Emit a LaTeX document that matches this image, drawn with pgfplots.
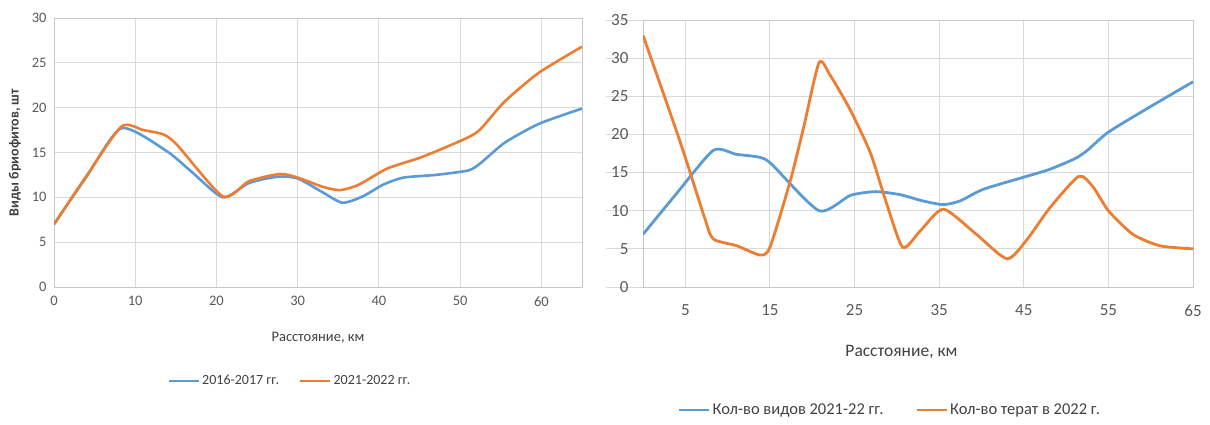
\documentclass[border=0pt]{standalone}
\usepackage{pgfplots}
\pgfplotsset{compat=1.18}
\usepackage{fontspec}
\setmainfont{Carlito}
\definecolor{cblue}{HTML}{5B9BD5}
\definecolor{corange}{HTML}{ED7D31}
\definecolor{cgrid}{HTML}{D9D9D9}
\definecolor{ctext}{HTML}{595959}
\definecolor{clab}{HTML}{404040}
\begin{document}
\begin{tikzpicture}
\useasboundingbox (0pt,0pt) rectangle (1210pt,425pt);
\pgfplotsset{
  every axis/.append style={
    scale only axis,
    axis line style={cgrid!80!gray},
    grid=major,
    major grid style={cgrid, line width=0.9pt},
    tick style={draw=none},
    /pgf/number format/assume math mode=true,
    tick label style={text=ctext},
    legend cell align=left,
    legend image code/.code={\draw[#1, line width=2.6pt] (0pt,0pt) -- (30pt,0pt);},
  }
}
% ---------------- left chart ----------------
\begin{axis}[
  at={(54pt,138pt)}, anchor=south west,
  width=528pt, height=269pt,
  xmin=0, xmax=65, ymin=0, ymax=30,
  xtick={0,10,...,60}, ytick={0,5,...,30},
  tick label style={font=\fontsize{14.5}{16}\selectfont},
  yticklabel style={xshift=-4pt},
  xticklabel style={yshift=-6pt},
  xlabel={Расстояние, км},
  xlabel style={at={(axis description cs:0.5,-0.19)}, anchor=center, font=\fontsize{14.5}{16}\selectfont, text=clab},
  ylabel={\bfseries Виды бриофитов, шт},
  ylabel style={at={(axis description cs:-0.074,0.5)}, anchor=center, font=\fontsize{14}{16}\selectfont, text=clab},
  legend style={at={(0.447,-0.349)}, anchor=center, draw=none, fill=none,
    legend columns=2, font=\fontsize{14}{16}\selectfont, text=clab,
    /tikz/every even column/.append style={column sep=18pt}},
]
\addplot[cblue, line width=2.6pt, smooth, tension=0.4] coordinates {
 (0,7) (4,12.3) (8.3,17.7) (13.8,15.2) (17,12.8) (20.8,10.0)
 (24,11.6) (27.5,12.3) (30,12.1) (33,10.6) (35.5,9.4) (38,10.1) (40.5,11.4)
 (43,12.2) (47,12.5) (51,13.0) (52.5,13.8) (55.5,16.1) (59.7,18.2) (65,19.9)};
\addlegendentry{2016-2017 гг.}
\addplot[corange, line width=2.6pt, smooth, tension=0.4] coordinates {
 (0,7) (4,12.4) (8.3,17.9) (11,17.5) (13.5,17.0) (15.2,15.8) (20.8,10.1)
 (24,11.8) (27.8,12.6) (30,12.2) (33,11.2) (35.2,10.8) (37.5,11.4) (41,13.2)
 (45,14.4) (48,15.5) (51,16.7) (52.5,17.6) (55.5,20.7) (59.7,23.9) (65,26.8)};
\addlegendentry{2021-2022 гг.}
\end{axis}
% ---------------- right chart ----------------
\begin{axis}[
  at={(643pt,138pt)}, anchor=south west,
  width=550pt, height=267pt,
  xmin=0, xmax=65, ymin=0, ymax=35,
  xtick={5,15,...,65}, ytick={0,5,...,35},
  ytick pos=left,
  ytick style={draw=cgrid, line width=0.9pt},
  ytick align=outside, major tick length=37pt,
  tick label style={font=\fontsize{17}{19}\selectfont},
  yticklabel style={xshift=26pt, anchor=east},
  xticklabel style={yshift=-14pt},
  xlabel={Расстояние, км},
  xlabel style={at={(axis description cs:0.47,-0.243)}, anchor=center, font=\fontsize{17.5}{20}\selectfont, text=clab},
  legend style={at={(0.449,-0.461)}, anchor=center, draw=none, fill=none,
    legend columns=2, font=\fontsize{16.5}{19}\selectfont, text=clab,
    /tikz/every even column/.append style={column sep=30pt}},
]
\addplot[cblue, line width=2.8pt, smooth, tension=0.4] coordinates {
 (0,6.9) (4,12.3) (8.3,17.9) (11,17.4) (13.8,17.0) (15.2,16.1) (20.8,10.0)
 (24.5,12.0) (27.5,12.5) (30.4,12.1) (33,11.3) (35.5,10.8) (37.5,11.3) (40.2,12.8)
 (45,14.4) (48,15.4) (51,16.8) (52.5,17.9) (55,20.3) (59.9,23.6) (65,26.9)};
\addlegendentry{Кол-во видов 2021-22 гг.}
\addplot[corange, line width=2.8pt, smooth, tension=0.4] coordinates {
 (0,33.0) (4.4,19.0) (7.3,9.0) (8.3,6.3) (11.1,5.4) (13.8,4.2) (15,5.2)
 (17.4,13.9) (19,21.0) (20.8,29.4) (22.1,27.8) (24.5,23.2) (26.9,17.5) (28.8,10.9)
 (30.7,5.2) (32.8,7.4) (35.5,10.2) (39.3,7.0) (43,3.7) (45.3,6.1)
 (48.1,10.4) (51.5,14.5) (53.2,13.1) (55,10.0) (57.9,6.9) (61.1,5.4) (65,5.0)};
\addlegendentry{Кол-во терат в 2022 г.}
\end{axis}
\end{tikzpicture}
\end{document}
